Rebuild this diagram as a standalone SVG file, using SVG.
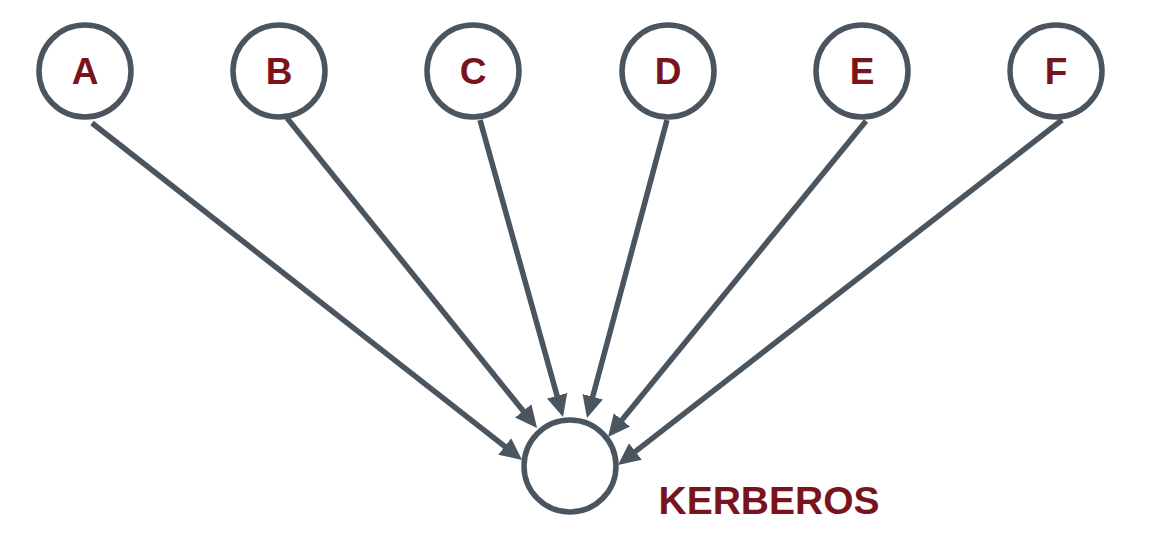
<svg xmlns="http://www.w3.org/2000/svg" width="1156" height="550" viewBox="0 0 1156 550">
<style>
.node{fill:#fff;stroke:#4a5560;stroke-width:5.5}
.lbl{font-family:"Liberation Sans",Arial,sans-serif;font-weight:bold;fill:#7a141c;text-anchor:middle}
.edge{stroke:#4a5560;stroke-width:5.5;fill:none;marker-end:url(#arr)}
</style>
<defs>
<marker id="arr" markerUnits="userSpaceOnUse" markerWidth="23" markerHeight="23" viewBox="0 0 23 23" refX="10" refY="11.5" orient="auto">
<path d="M0,1 L22,11.5 L0,22 z" fill="#4a5560"/>
</marker>
</defs>
<rect width="1156" height="550" fill="#fff"/>
<g id="connectors">
<line class="edge" x1="92" y1="123" x2="512.6" y2="452.6"/>
<line class="edge" x1="287" y1="118" x2="529.5" y2="418.7"/>
<line class="edge" x1="480" y1="120" x2="559.8" y2="405.4"/>
<line class="edge" x1="667" y1="120" x2="590.1" y2="406.4"/>
<line class="edge" x1="866" y1="121" x2="615.6" y2="427.7"/>
<line class="edge" x1="1062" y1="120" x2="627.5" y2="457.6"/>
</g>
<g id="A"><circle class="node" cx="85" cy="71" r="46"/><text class="lbl" x="85" y="83.5" font-size="37">A</text></g>
<g id="B"><circle class="node" cx="279" cy="71" r="46"/><text class="lbl" x="279" y="83.5" font-size="37">B</text></g>
<g id="C"><circle class="node" cx="473" cy="71" r="46"/><text class="lbl" x="473" y="83.5" font-size="37">C</text></g>
<g id="D"><circle class="node" cx="668" cy="71" r="46"/><text class="lbl" x="668" y="83.5" font-size="37">D</text></g>
<g id="E"><circle class="node" cx="862" cy="71" r="46"/><text class="lbl" x="862" y="83.5" font-size="37">E</text></g>
<g id="F"><circle class="node" cx="1056" cy="71" r="46"/><text class="lbl" x="1056" y="83.5" font-size="37">F</text></g>
<g id="KERBEROS"><circle class="node" cx="570" cy="466" r="46"/><text class="lbl" x="769" y="514" font-size="39">KERBEROS</text></g>
</svg>
